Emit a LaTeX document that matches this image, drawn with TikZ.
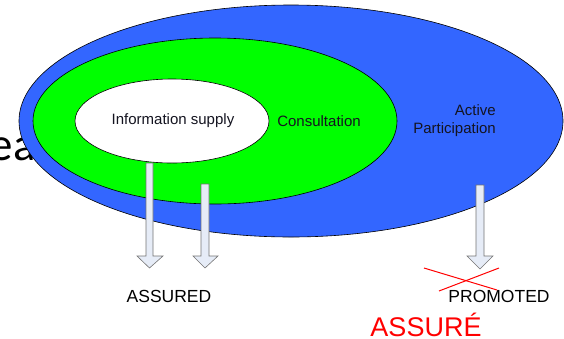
\documentclass[tikz,border=0pt]{standalone}
\usepackage{fontspec}
\setmainfont{Liberation Sans}
\newfontfamily\calib{Carlito}
\begin{document}
\begin{tikzpicture}[x=1pt,y=-1pt,
  ring/.style={draw=black,line width=0.6pt},
  blockarrow/.style={draw=black!55,fill=arrowfill,line width=0.6pt,line join=miter},
  lbl/.style={inner sep=0pt,text=labeltext,font=\fontsize{15}{17}\selectfont},
  outlbl/.style={inner sep=0pt,font=\fontsize{17.5}{20}\selectfont}]
\definecolor{blueouter}{HTML}{3366FF}
\definecolor{greenmid}{HTML}{00FF00}
\definecolor{arrowfill}{HTML}{E6ECF7}
\definecolor{labeltext}{HTML}{141420}
\useasboundingbox (0,0) rectangle (564,338);
\node[inner sep=0pt,anchor=base east,font=\calib\fontsize{47}{50}\selectfont] (ea) at (36,160) {ea};
\fill[blueouter,ring] (291,121) ellipse [x radius=272,y radius=116];
\fill[greenmid,ring] (215,121) ellipse [x radius=182,y radius=83];
\fill[white,ring] (172,121) ellipse [x radius=97,y radius=42];
\node[lbl] (info) at (173,121) {Information supply};
\node[lbl] (cons) at (319,121) {Consultation};
\node[lbl,align=right,anchor=east,font=\fontsize{15}{18}\selectfont] (act) at (496,121) {Active\\Participation};
% block arrows
\draw[blockarrow] (146,163) -- (153,163) -- (153,256) -- (163,256) -- (149.5,268) -- (137,256) -- (146,256) -- cycle;
\draw[blockarrow] (201,184) -- (209,184) -- (209,256) -- (218,256) -- (205,268) -- (193,256) -- (201,256) -- cycle;
\draw[blockarrow] (476,185) -- (484,185) -- (484,256) -- (493,256) -- (480,269) -- (467,256) -- (476,256) -- cycle;
\node[outlbl] (assured) at (169,296) {ASSURED};
\node[outlbl] (promoted) at (499,296) {PROMOTED};
\coordinate (x1a) at (424,268);
\coordinate (x1b) at (497,290);
\coordinate (x2a) at (439,291);
\coordinate (x2b) at (499,268);
\draw[red,line width=1pt] (x1a) -- (x1b);
\draw[red,line width=1pt] (x2a) -- (x2b);
\node[inner sep=0pt,text=red,font=\fontsize{27}{30}\selectfont] (assure) at (426,325) {ASSURÉ};
\end{tikzpicture}
\end{document}
